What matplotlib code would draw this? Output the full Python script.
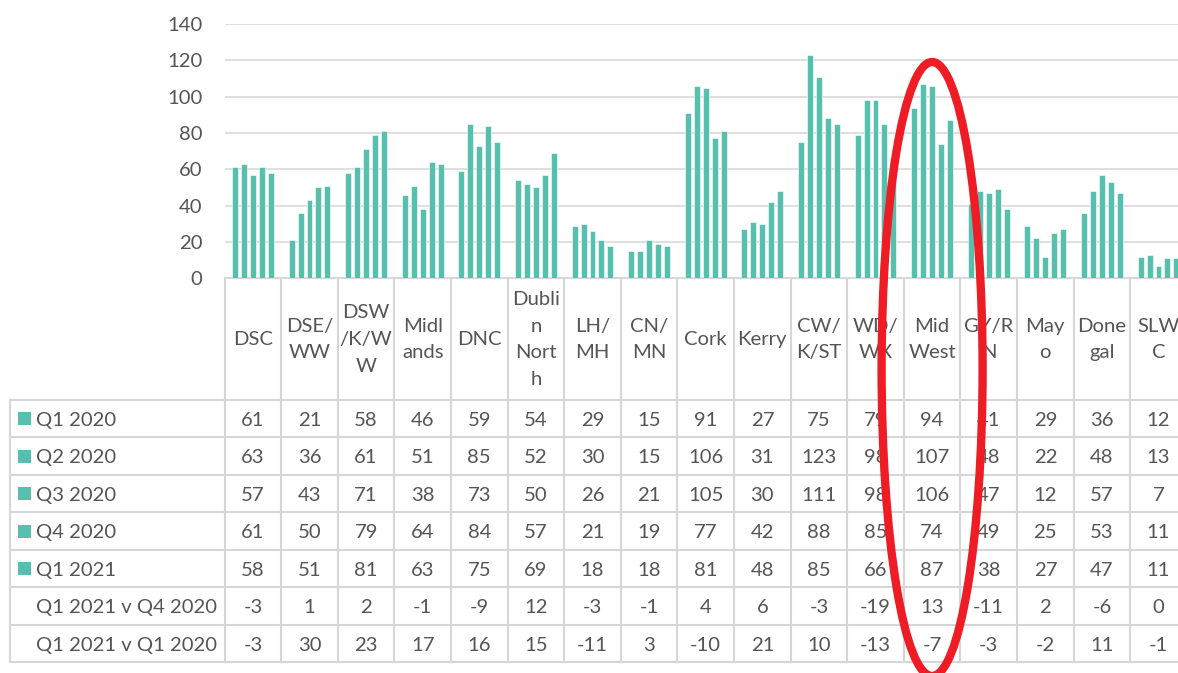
import matplotlib
matplotlib.use('Agg')
import matplotlib.pyplot as plt
import matplotlib.transforms as mtransforms
from matplotlib.patches import Ellipse, Rectangle
from matplotlib.lines import Line2D

plt.rcParams['font.family'] = ['Lato', 'DejaVu Sans']

categories = ["DSC", "DSE/\nWW", "DSW\n/K/W\nW", "Midl\nands", "DNC",
              "Dubli\nn\nNort\nh", "LH/\nMH", "CN/\nMN", "Cork", "Kerry",
              "CW/\nK/ST", "WD/\nWX", "Mid\nWest", "GY/R\nN", "May\no",
              "Done\ngal", "SLW\nC"]
series_names = ["Q1 2020", "Q2 2020", "Q3 2020", "Q4 2020", "Q1 2021"]
q1_2020 = [61, 21, 58, 46, 59, 54, 29, 15, 91, 27, 75, 79, 94, 41, 29, 36, 12]
q2_2020 = [63, 36, 61, 51, 85, 52, 30, 15, 106, 31, 123, 98, 107, 48, 22, 48, 13]
q3_2020 = [57, 43, 71, 38, 73, 50, 26, 21, 105, 30, 111, 98, 106, 47, 12, 57, 7]
q4_2020 = [61, 50, 79, 64, 84, 57, 21, 19, 77, 42, 88, 85, 74, 49, 25, 53, 11]
q1_2021 = [58, 51, 81, 63, 75, 69, 18, 18, 81, 48, 85, 66, 87, 38, 27, 47, 11]
diff_names = ["Q1 2021 v Q4 2020", "Q1 2021 v Q1 2020"]
q1_21_v_q4_20 = [-3, 1, 2, -1, -9, 12, -3, -1, 4, 6, -3, -19, 13, -11, 2, -6, 0]
q1_21_v_q1_20 = [-3, 30, 23, 17, 16, 15, -11, 3, -10, 21, 10, -13, -7, -3, -2, 11, -1]
y_ticks = [0, 20, 40, 60, 80, 100, 120, 140]
highlight = "Mid\nWest"

series = [q1_2020, q2_2020, q3_2020, q4_2020, q1_2021]
diffs = [q1_21_v_q4_20, q1_21_v_q1_20]

W, H = 1178, 673
BAR = '#56BFAD'
TXT = '#555555'
GRID = '#D9D9D9'
FS = 14.6

def fx(p):
    return p / W

def fy(p):
    return 1 - p / H

fig = plt.figure(figsize=(W / 100, H / 100), dpi=100)
ax_left, ax_right, ax_top, ax_bot = 224.6, 1186.8, 24.0, 278.3
ax = fig.add_axes([fx(ax_left), fy(ax_bot), fx(ax_right - ax_left), (ax_bot - ax_top) / H])

n = len(categories)
step, bw = 0.159, 0.106
for j, vals in enumerate(series):
    xs = [i + (j - 2) * step for i in range(n)]
    ax.bar(xs, vals, width=bw, color=BAR, edgecolor='white', linewidth=0.4, zorder=3)

ax.set_xlim(-0.5, n - 0.5)
ax.set_ylim(0, 140)
ax.set_yticks(y_ticks)
ax.set_xticks([])
ax.grid(axis='y', color=GRID, linewidth=1.2, zorder=0)
for s in ['top', 'right', 'left']:
    ax.spines[s].set_visible(False)
ax.spines['bottom'].set_color(GRID)
ax.spines['bottom'].set_linewidth(1.5)
ax.tick_params(axis='y', length=0, pad=16, labelsize=FS, labelcolor=TXT)

# ---- data table ----
bt = mtransforms.blended_transform_factory(ax.transData, fig.transFigure)
LC = '#D6D6D6'
row_top = 400.0
row_h = 37.47
nrows = len(series) + len(diffs)
table_bot = row_top + row_h * nrows

for k in range(nrows + 1):
    y = fy(row_top + row_h * k)
    fig.add_artist(Line2D([fx(9.6), 1.0], [y, y], color=LC, lw=1.5, zorder=1))
for i in range(n + 1):
    fig.add_artist(Line2D([i - 0.5, i - 0.5], [fy(ax_bot), fy(table_bot)],
                          transform=bt, color=LC, lw=1.5, zorder=1))
fig.add_artist(Line2D([fx(9.6), fx(9.6)], [fy(row_top), fy(table_bot)], color=LC, lw=1.5, zorder=1))

# header
for i, c in enumerate(categories):
    fig.text(i, fy(339.5), c, transform=bt, ha='center', va='center',
             multialignment='center', fontsize=FS, color=TXT, linespacing=1.68)

rows = [(nm, vals, True) for nm, vals in zip(series_names, series)] + \
       [(nm, vals, False) for nm, vals in zip(diff_names, diffs)]
for k, (nm, vals, key) in enumerate(rows):
    yc = row_top + row_h * (k + 0.5)
    if key:
        fig.add_artist(Rectangle((fx(18.4), fy(yc + 6.5)), fx(12.2), 13 / H,
                                 transform=fig.transFigure, color=BAR, lw=0))
    fig.text(fx(36.4), fy(yc), nm, ha='left', va='center_baseline', fontsize=FS, color=TXT)
    for i, v in enumerate(vals):
        fig.text(i, fy(yc), str(v), transform=bt, ha='center', va='center_baseline',
                 fontsize=FS, color=TXT)

# highlight ellipse around Mid West
hi = categories.index(highlight)
cx_pix = ax.transData.transform((hi, 0))[0]
fig.add_artist(Ellipse((cx_pix / W, fy(369)), 101 / W, 614 / H,
                       transform=fig.transFigure, fill=False,
                       edgecolor='#EE1C25', lw=6, zorder=10))

fig.savefig('out.png', dpi=100)
